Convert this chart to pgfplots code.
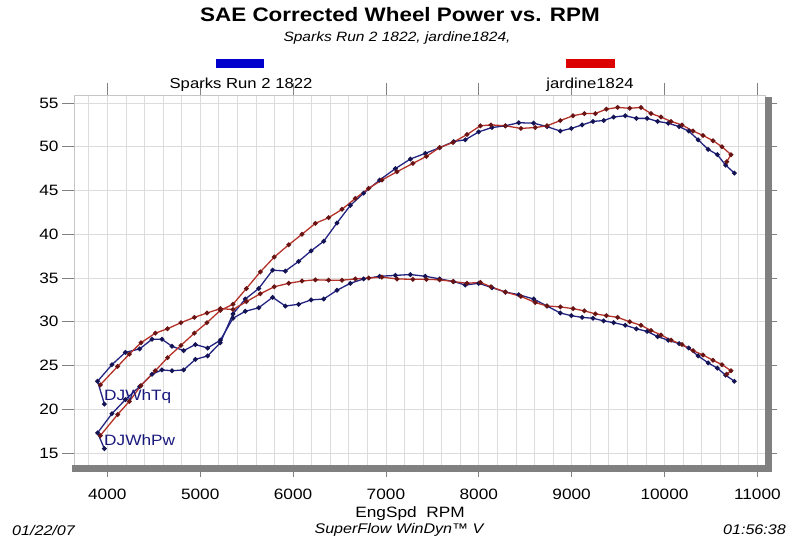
\documentclass[border=0pt]{standalone}
\usepackage{pgfplots}
\pgfplotsset{compat=1.18}
\usepackage{fontspec}
\setmainfont{Liberation Sans}[FakeStretch=1.15]
\definecolor{bln}{RGB}{35,35,130}
\definecolor{blm}{RGB}{20,20,85}
\definecolor{rdl}{RGB}{180,50,40}
\definecolor{rdm}{RGB}{105,20,20}
\definecolor{gridc}{RGB}{220,220,220}
\definecolor{shad}{RGB}{128,128,128}
\definecolor{lblue}{RGB}{0,0,204}
\definecolor{lred}{RGB}{221,0,0}
\definecolor{txtblue}{RGB}{25,25,125}
\begin{document}
\begin{tikzpicture}[x=1pt,y=1pt]
\path[use as bounding box] (0,0) rectangle (800,540);
\begin{axis}[at={(74pt,75pt)},anchor=south west,scale only axis,
  width=691pt,height=370pt,
  xmin=3641,xmax=11082,ymin=13.63,ymax=55.92,
  scaled x ticks=false,scaled y ticks=false,
  xtick={4000,5000,...,11000},
  minor xtick={3800,4000,...,11000},
  ytick={15,20,...,55},
  xmajorgrids,xminorgrids,ymajorgrids,
  grid style={gridc,line width=0.8pt},
  minor grid style={gridc,line width=0.8pt},
  minor tick length=0pt,
  major tick length=12pt,
  tick align=outside,
  tick style={gray,line width=0.6pt},
  axis line style={draw=gray!45,line width=0.8pt},
  /pgf/number format/assume math mode=true,
  /pgf/number format/1000 sep={},
  tick label style={font=\fontsize{15}{18}\selectfont,black},
  xticklabel style={yshift=-8pt},
  clip=false,
]
% Sparks Run 2 1822 torque
\addplot[bln,line width=1.3pt,mark=*,mark size=1.7pt,mark options={fill=blm,draw=blm}] coordinates {
(3968,20.6)(3895,23.2)(4050,25.1)(4194,26.5)(4348,26.9)(4481,28.0)(4588,28.0)(4696,27.2)(4822,26.7)(4948,27.4)(5080,27.0)(5217,27.9)(5353,30.4)(5486,31.2)(5630,31.6)(5780,32.8)(5917,31.8)(6060,32.0)(6194,32.5)(6330,32.6)(6473,33.6)(6617,34.4)(6760,34.9)(6932,35.2)(7101,35.3)(7263,35.4)(7424,35.2)(7579,34.9)(7729,34.6)(7855,34.2)(7998,34.4)(8142,33.9)(8286,33.4)(8430,33.1)(8591,32.6)(8735,31.8)(8878,31.0)(8996,30.7)(9112,30.5)(9230,30.4)(9345,30.1)(9452,29.9)(9578,29.6)(9697,29.2)(9812,28.9)(9926,28.3)(10040,27.9)(10158,27.5)(10260,27.0)(10362,26.1)(10470,25.3)(10569,24.7)(10658,23.9)(10752,23.2)
};
% Sparks Run 2 1822 power
\addplot[bln,line width=1.3pt,mark=*,mark size=1.7pt,mark options={fill=blm,draw=blm}] coordinates {
(3968,15.5)(3895,17.3)(4050,19.5)(4194,21.1)(4348,22.6)(4481,24.0)(4588,24.5)(4696,24.4)(4822,24.5)(4948,25.7)(5080,26.1)(5217,27.6)(5353,30.9)(5486,32.6)(5630,33.8)(5780,35.9)(5917,35.8)(6060,36.9)(6194,38.1)(6330,39.2)(6473,41.3)(6617,43.3)(6760,44.7)(6932,46.2)(7101,47.5)(7263,48.6)(7424,49.25)(7579,49.9)(7729,50.6)(7855,50.8)(7998,51.7)(8142,52.2)(8286,52.4)(8430,52.75)(8591,52.7)(8735,52.3)(8878,51.8)(8996,52.1)(9112,52.5)(9230,52.9)(9345,53.0)(9452,53.4)(9578,53.55)(9697,53.25)(9812,53.25)(9926,52.9)(10040,52.7)(10158,52.3)(10260,51.8)(10362,50.8)(10470,49.7)(10569,49.1)(10658,47.9)(10752,47.0)
};
% jardine1824 torque
\addplot[rdl,line width=1.3pt,mark=*,mark size=1.7pt,mark options={fill=rdm,draw=rdm}] coordinates {
(3925,22.8)(4111,24.9)(4237,26.3)(4362,27.6)(4517,28.7)(4648,29.2)(4793,29.9)(4937,30.5)(5073,31.0)(5217,31.5)(5353,31.4)(5497,32.3)(5647,33.2)(5798,34.0)(5953,34.4)(6096,34.65)(6240,34.8)(6383,34.75)(6527,34.75)(6670,34.9)(6814,35.0)(6957,35.1)(7119,34.9)(7291,34.85)(7435,34.85)(7578,34.8)(7722,34.6)(7873,34.4)(8017,34.5)(8131,34.0)(8286,33.4)(8454,32.9)(8608,32.2)(8735,31.8)(8878,31.7)(9015,31.5)(9137,31.25)(9255,30.9)(9373,30.7)(9495,30.5)(9625,30.0)(9747,29.6)(9855,29.0)(9962,28.5)(10070,27.9)(10188,27.4)(10307,26.7)(10414,26.2)(10522,25.6)(10619,25.1)(10716,24.4)(10670,24.0)
};
% jardine1824 power
\addplot[rdl,line width=1.3pt,mark=*,mark size=1.7pt,mark options={fill=rdm,draw=rdm}] coordinates {
(3925,17.0)(4111,19.4)(4237,20.9)(4362,22.7)(4517,24.4)(4648,25.9)(4793,27.3)(4937,28.7)(5073,29.9)(5217,31.3)(5353,32.0)(5497,33.8)(5647,35.7)(5798,37.4)(5953,38.8)(6096,40.0)(6240,41.25)(6383,41.9)(6527,42.85)(6670,44.1)(6814,45.25)(6957,46.2)(7119,47.15)(7291,48.1)(7435,48.9)(7578,49.9)(7722,50.5)(7873,51.4)(8017,52.4)(8131,52.5)(8286,52.4)(8454,52.1)(8608,52.2)(8735,52.4)(8878,53.0)(9015,53.55)(9137,53.8)(9255,53.8)(9373,54.3)(9495,54.5)(9625,54.4)(9747,54.5)(9855,53.8)(9962,53.4)(10070,52.9)(10188,52.5)(10307,51.8)(10414,51.3)(10522,50.7)(10619,50.0)(10716,49.1)(10670,48.3)
};
\node[anchor=west,inner sep=0pt,txtblue,font=\fontsize{15}{18}\selectfont] at (axis cs:3964,21.44) {DJWhTq};
\node[anchor=west,inner sep=0pt,txtblue,font=\fontsize{15}{18}\selectfont] at (axis cs:3964,16.5) {DJWhPw};
\end{axis}
% shadow bands
\fill[shad] (72,68) rectangle (772,75);
\fill[shad] (765,68) rectangle (772,443);
% titles
\node[font=\bfseries\fontsize{19.5}{22}\selectfont] at (400,525) {SAE Corrected Wheel Power vs. RPM};
\node[font=\itshape\fontsize{13.5}{16}\selectfont] at (397,502) {Sparks Run 2 1822, jardine1824,};
% legend
\fill[lblue] (216,472) rectangle (264,481);
\fill[lred] (566,472) rectangle (615,481);
\node[font=\fontsize{14.5}{17}\selectfont] at (241,455) {Sparks Run 2 1822};
\node[font=\fontsize{14.5}{17}\selectfont] at (590,455) {jardine1824};
% axis title and footer
\node[font=\fontsize{15}{18}\selectfont] at (410,26) {EngSpd\ \ RPM};
\node[anchor=west,font=\itshape\fontsize{14}{17}\selectfont,inner sep=0pt] at (12,10) {01/22/07};
\node[font=\itshape\fontsize{14}{17}\selectfont] at (399,10) {SuperFlow WinDyn™ V};
\node[anchor=east,font=\itshape\fontsize{14}{17}\selectfont,inner sep=0pt] at (786,10) {01:56:38};
\end{tikzpicture}
\end{document}
